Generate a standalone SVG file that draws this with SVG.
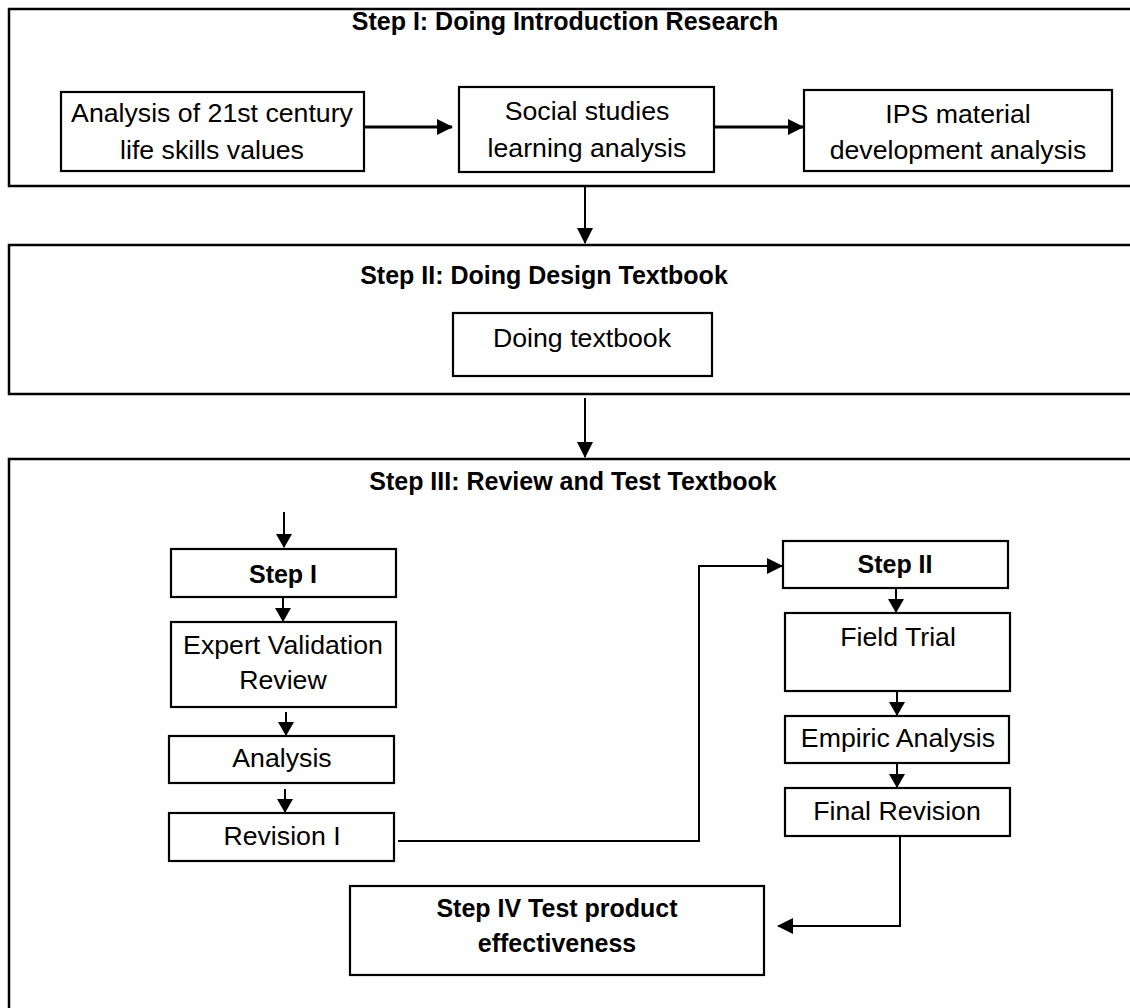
<svg xmlns="http://www.w3.org/2000/svg" width="1130" height="1008" viewBox="0 0 1130 1008">
<defs>
<style>
.frame{fill:none;stroke:#000;stroke-width:2.5}
.box{fill:#fff;stroke:#000;stroke-width:2.2}
.t{font-family:"Liberation Sans",Arial,sans-serif;font-size:26.7px;fill:#000;text-anchor:middle}
.b{font-family:"Liberation Sans",Arial,sans-serif;font-size:25px;font-weight:bold;fill:#000;text-anchor:middle}
.c{fill:none;stroke:#000;stroke-width:2}
.c3{fill:none;stroke:#000;stroke-width:3}
</style>
<marker id="ah" viewBox="0 0 16 16" markerUnits="userSpaceOnUse" markerWidth="16" markerHeight="16" refX="15" refY="8" orient="auto">
<path d="M0,0 L16,8 L0,16 z" fill="#000"/>
</marker>
<marker id="as" viewBox="0 0 14 16" markerUnits="userSpaceOnUse" markerWidth="14" markerHeight="16" refX="13" refY="8" orient="auto">
<path d="M0,0 L14,8 L0,16 z" fill="#000"/>
</marker>
</defs>

<g id="stage1">
<rect class="frame" x="9" y="9" width="1135" height="177"/>
<text class="b" x="565" y="30">Step I: Doing Introduction Research</text>
</g>
<g id="stage2">
<rect class="frame" x="9" y="245" width="1135" height="149"/>
<text class="b" x="544" y="284">Step II: Doing Design Textbook</text>
</g>
<g id="stage3">
<rect class="frame" x="9" y="459" width="1135" height="570"/>
<text class="b" x="573" y="490">Step III: Review and Test Textbook</text>
</g>

<g id="n-analysis21">
<rect class="box" x="61" y="92" width="303" height="79"/>
<text class="t" x="212" y="122">Analysis of 21st century</text>
<text class="t" x="212" y="159">life skills values</text>
</g>
<g id="n-social">
<rect class="box" x="459" y="87" width="255" height="85"/>
<text class="t" x="587" y="120">Social studies</text>
<text class="t" x="587" y="157">learning analysis</text>
</g>
<g id="n-ips">
<rect class="box" x="804" y="90" width="308" height="81"/>
<text class="t" x="958" y="123">IPS material</text>
<text class="t" x="958" y="159">development analysis</text>
</g>
<g id="n-doing">
<rect class="box" x="453" y="313" width="259" height="63"/>
<text class="t" x="582" y="347">Doing textbook</text>
</g>
<g id="n-step1">
<rect class="box" x="171" y="549" width="225" height="48"/>
<text class="b" x="283" y="583">Step I</text>
</g>
<g id="n-expert">
<rect class="box" x="171" y="622" width="225" height="85"/>
<text class="t" x="283" y="654">Expert Validation</text>
<text class="t" x="283" y="689">Review</text>
</g>
<g id="n-analysis">
<rect class="box" x="169" y="736" width="225" height="47"/>
<text class="t" x="282" y="767">Analysis</text>
</g>
<g id="n-rev1">
<rect class="box" x="169" y="813" width="225" height="48"/>
<text class="t" x="282" y="845">Revision I</text>
</g>
<g id="n-step2">
<rect class="box" x="783" y="541" width="225" height="47"/>
<text class="b" x="895" y="573">Step II</text>
</g>
<g id="n-field">
<rect class="box" x="785" y="613" width="225" height="78"/>
<text class="t" x="898" y="646">Field Trial</text>
</g>
<g id="n-empiric">
<rect class="box" x="785" y="716" width="224" height="47"/>
<text class="t" x="898" y="747">Empiric Analysis</text>
</g>
<g id="n-final">
<rect class="box" x="785" y="788" width="225" height="48"/>
<text class="t" x="897" y="820">Final Revision</text>
</g>
<g id="n-step4">
<rect class="box" x="350" y="886" width="414" height="89"/>
<text class="b" x="557" y="917">Step IV Test product</text>
<text class="b" x="557" y="952">effectiveness</text>
</g>

<g id="connectors">
<line class="c3" x1="364" y1="127" x2="452" y2="127" marker-end="url(#ah)"/>
<line class="c3" x1="714" y1="127" x2="803" y2="127" marker-end="url(#ah)"/>
<line class="c" x1="585" y1="186" x2="585" y2="243" marker-end="url(#ah)"/>
<line class="c" x1="585" y1="398" x2="585" y2="457" marker-end="url(#ah)"/>
<line class="c" x1="284" y1="512" x2="284" y2="547" marker-end="url(#as)"/>
<line class="c" x1="283" y1="598" x2="283" y2="621" marker-end="url(#as)"/>
<line class="c" x1="286" y1="712" x2="286" y2="735" marker-end="url(#as)"/>
<line class="c" x1="285" y1="789" x2="285" y2="812" marker-end="url(#as)"/>
<polyline class="c" points="398,841 699,841 699,566 782,566" marker-end="url(#ah)"/>
<line class="c" x1="896" y1="589" x2="896" y2="612" marker-end="url(#as)"/>
<line class="c" x1="897" y1="691" x2="897" y2="715" marker-end="url(#as)"/>
<line class="c" x1="897" y1="763" x2="897" y2="787" marker-end="url(#as)"/>
<polyline class="c" points="900,836 900,926 778,926" marker-end="url(#ah)"/>
</g>
</svg>
